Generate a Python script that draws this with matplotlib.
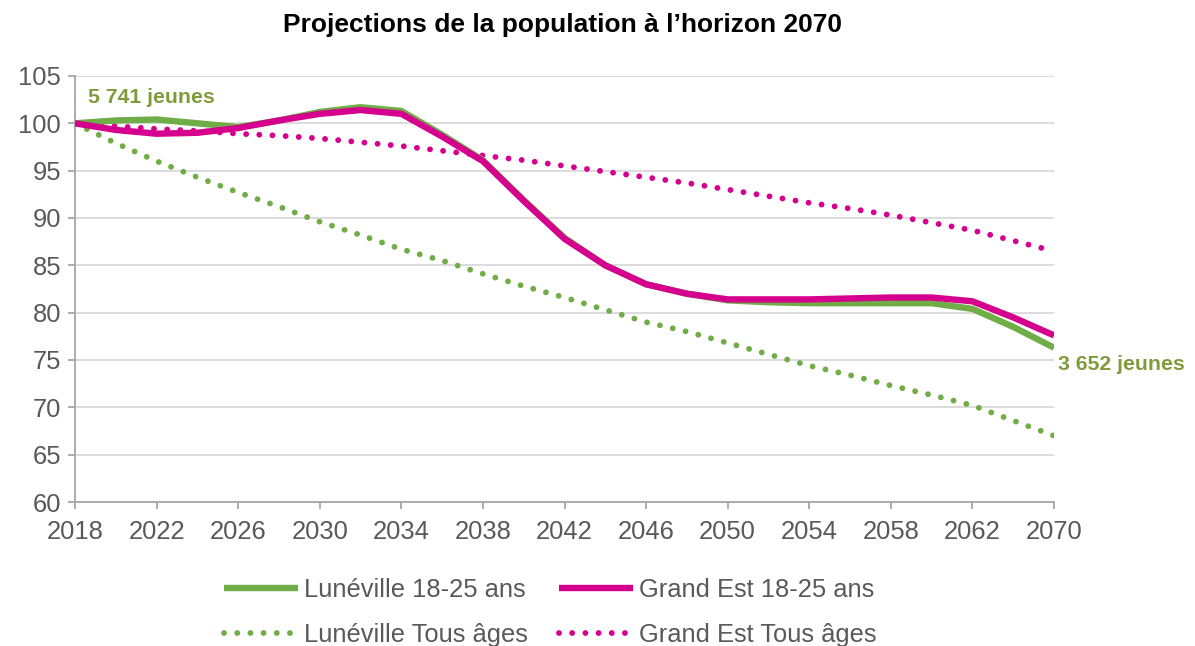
import matplotlib.pyplot as plt
import numpy as np

plt.rcParams['font.family'] = ['Liberation Sans', 'DejaVu Sans']

# data (index base 100 in 2018), read every half tick interval
annees = [2018, 2020, 2022, 2024, 2026, 2028, 2030, 2032, 2034, 2036, 2038, 2040, 2042,
          2044, 2046, 2048, 2050, 2052, 2054, 2056, 2058, 2060, 2062, 2066, 2070]
tick_labels = ['2018', '2022', '2026', '2030', '2034', '2038', '2042', '2046',
               '2050', '2054', '2058', '2062', '2070']

luneville_jeunes = [100.0, 100.3, 100.4, 100.0, 99.6, 100.3, 101.2, 101.7, 101.3, 98.8, 96.1,
                    91.9, 87.9, 85.0, 83.0, 82.0, 81.3, 81.1, 81.0, 81.0, 81.0, 81.0,
                    80.4, 78.5, 76.3]
grandest_jeunes = [100.0, 99.3, 98.9, 99.0, 99.5, 100.3, 101.0, 101.4, 101.0, 98.6, 96.0,
                   91.8, 87.8, 85.0, 83.0, 82.0, 81.4, 81.4, 81.4, 81.5, 81.6, 81.6,
                   81.2, 79.5, 77.6]
luneville_tous = [100.0, 97.9, 96.0, 94.3, 92.7, 91.2, 89.6, 88.2, 86.7, 85.5, 84.1,
                  82.8, 81.6, 80.3, 79.0, 78.0, 76.8, 75.6, 74.4, 73.4, 72.3, 71.3,
                  70.2, 68.6, 67.0]
grandest_tous = [100.0, 99.7, 99.4, 99.2, 98.9, 98.7, 98.4, 98.0, 97.6, 97.1, 96.6,
                 96.1, 95.5, 94.9, 94.3, 93.7, 93.0, 92.3, 91.6, 91.0, 90.3, 89.5,
                 88.7, 87.6, 86.5]

vert = '#70AD47'
rose = '#D6008F'
vert_txt = '#809B3A'
gris_txt = '#595959'

x = np.arange(len(annees)) / 2  # category axis, ticks every 2 points

fig = plt.figure(figsize=(11.95, 6.46), dpi=100)
ax = fig.add_axes([0.0628, 0.2229, 0.8192, 0.6595])

l1, = ax.plot(x, luneville_jeunes, color=vert, lw=4.6, solid_capstyle='butt',
              solid_joinstyle='round', label='Lunéville 18-25 ans', zorder=3)
l2, = ax.plot(x, grandest_jeunes, color=rose, lw=4.6, solid_capstyle='butt',
              solid_joinstyle='round', label='Grand Est 18-25 ans', zorder=4)
l3, = ax.plot(x, luneville_tous, color=vert, lw=4.2, linestyle=(0, (0.01, 2.25)),
              dash_capstyle='round', label='Lunéville Tous âges', zorder=2)
l4, = ax.plot(x, grandest_tous, color=rose, lw=4.2, linestyle=(0, (0.01, 2.25)),
              dash_capstyle='round', label='Grand Est Tous âges', zorder=2)

ax.set_xlim(0, 12)
ax.set_ylim(60, 105)
ax.set_xticks(np.arange(len(tick_labels)))
ax.set_xticklabels(tick_labels)
ax.set_yticks(np.arange(60, 106, 5))
ax.grid(axis='y', color='#D9D9D9', lw=1.3)
ax.set_axisbelow(True)
for s in ['top', 'right']:
    ax.spines[s].set_visible(False)
for s in ['left', 'bottom']:
    ax.spines[s].set_color('#A6A6A6')
    ax.spines[s].set_linewidth(1.3)
ax.tick_params(axis='both', colors='#A6A6A6', labelcolor=gris_txt, labelsize=18.4,
               length=5, width=1.3)
ax.tick_params(axis='x', pad=8)
ax.tick_params(axis='y', pad=5)

ax.text(0.16, 102.7, '5 741 jeunes', color=vert_txt, fontsize=15.3, fontweight='bold',
        ha='left', va='center')
ax.text(12.05, 74.5, '3 652 jeunes', color=vert_txt, fontsize=15.3, fontweight='bold',
        ha='left', va='center', clip_on=False)

fig.text(0.4707, 0.961, 'Projections de la population à l\u2019horizon 2070',
         ha='center', va='center', fontsize=19, fontweight='bold', color='black')

# legend filled column by column -> order so rows read jeunes / tous âges
leg = fig.legend([l1, l3, l2, l4], [l.get_label() for l in (l1, l3, l2, l4)],
                 loc='center', bbox_to_anchor=(0.4605, 0.0525), ncol=2, frameon=False,
                 fontsize=18.4, handlelength=2.9, columnspacing=1.2, handletextpad=0.25,
                 labelspacing=0.82)
for t in leg.get_texts():
    t.set_color(gris_txt)

fig.savefig('out.png', dpi=100)
plt.close()
